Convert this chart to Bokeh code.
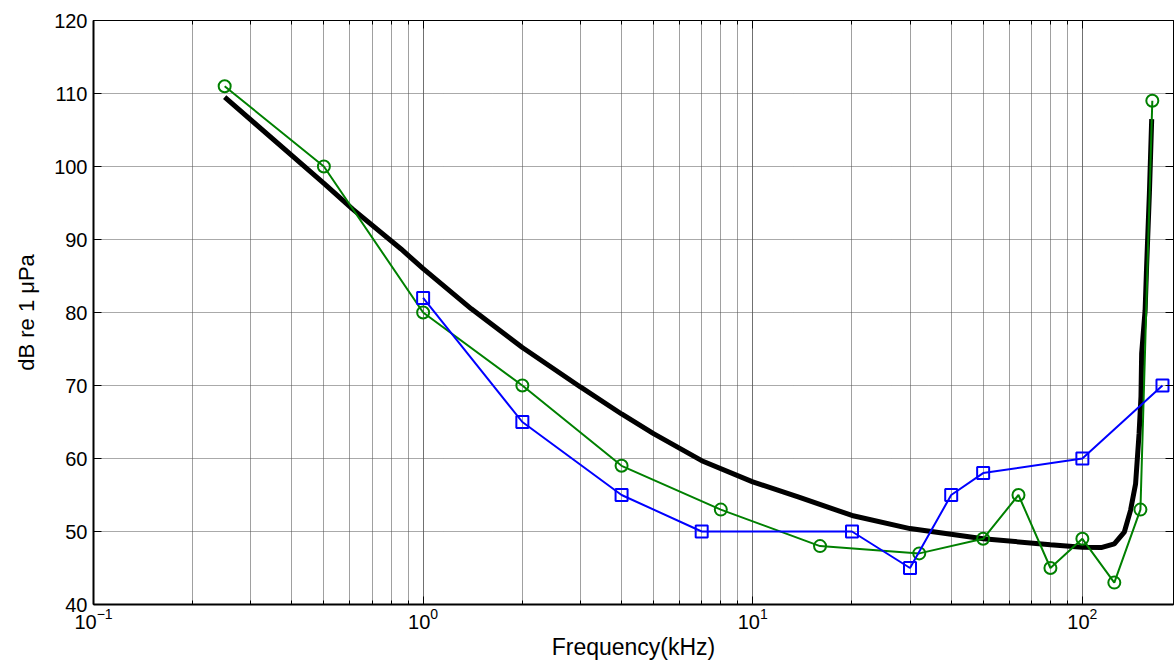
from bokeh.plotting import figure
from bokeh.models import (FixedTicker, LogAxis, LinearAxis, CustomJSTickFormatter, Range1d)
from bokeh.embed import file_html
from bokeh.resources import INLINE

# ---- data ----
thr_f = [0.25, 0.5, 0.61, 0.857, 1.0, 1.4, 2.0, 3.0, 4.0, 5.0, 7.0, 10.0, 13.8, 20.0, 30.0,
         50.0, 80.0, 100.0, 114.0, 125.0, 134.0, 140.0, 145.0, 148.6, 150.6, 151.3,
         155.0, 156.6, 159.7, 162.3]
thr_db = [109.5, 97.7, 94.2, 88.7, 86.0, 80.5, 75.2, 69.8, 66.1, 63.4, 59.7, 56.8, 54.7, 52.2,
          50.4, 49.0, 48.2, 47.85, 47.8, 48.3, 49.9, 52.9, 56.5, 63.4, 68.5, 74.4,
          80.3, 86.2, 96.3, 106.5]

green_f = [0.25, 0.5, 1, 2, 4, 8, 16, 32, 50, 64, 80, 100, 125, 150, 163]
green_db = [111, 100, 80, 70, 59, 53, 48, 47, 49, 55, 45, 49, 43, 53, 109]

blue_f = [1, 2, 4, 7, 20, 30, 40, 50, 100, 175]
blue_db = [82, 65, 55, 50, 50, 45, 55, 58, 60, 70]

x_major = [0.1, 1, 10, 100]
x_minor = [m * d for d in (0.1, 1, 10) for m in range(2, 10)]
y_ticks = [40, 50, 60, 70, 80, 90, 100, 110, 120]

FONT = "Liberation Sans"

p = figure(width=1174, height=662, x_axis_type="log",
           x_range=Range1d(0.1, 189), y_range=Range1d(40, 120),
           output_backend="svg", toolbar_location=None,
           min_border_left=93, min_border_right=1, min_border_top=20, min_border_bottom=58)
p.background_fill_color = "white"
p.border_fill_color = "white"
p.outline_line_color = "black"
p.outline_line_width = 1

xt = FixedTicker(ticks=x_major, minor_ticks=x_minor)
yt = FixedTicker(ticks=y_ticks)

p.xaxis.ticker = xt
p.yaxis.ticker = yt

for ax in (p.xaxis[0], p.yaxis[0]):
    ax.axis_line_color = "black"
    ax.axis_line_width = 2
    ax.major_tick_in = 8
    ax.major_tick_out = 0
    ax.minor_tick_in = 4
    ax.minor_tick_out = 0
    ax.major_tick_line_color = "black"
    ax.minor_tick_line_color = "black"
    ax.major_label_text_font = FONT
    ax.major_label_text_font_size = "20px"
    ax.major_label_text_color = "black"
    ax.axis_label_text_font = FONT
    ax.axis_label_text_font_style = "normal"
    ax.axis_label_text_color = "black"

p.xaxis.axis_label = "Frequency(kHz)"
p.yaxis.axis_label = "dB re 1 \u03bcPa"
p.xaxis.axis_label_text_font_size = "23px"
p.yaxis.axis_label_text_font_size = "22px"
p.xaxis.major_label_standoff = 3
p.xaxis.axis_label_standoff = 2
p.yaxis.major_label_standoff = 6
p.yaxis.axis_label_standoff = 12

# grids
p.xgrid.grid_line_color = "#707070"
p.xgrid.grid_line_width = 1
p.xgrid.minor_grid_line_color = "#a0a0a0"
p.xgrid.minor_grid_line_width = 1
p.ygrid.grid_line_color = "#555555"
p.ygrid.grid_line_dash = "1 1"
p.ygrid.grid_line_width = 1

blank = CustomJSTickFormatter(code="return ''")
top = LogAxis(ticker=xt, formatter=blank, major_tick_in=8, major_tick_out=0,
              minor_tick_in=4, minor_tick_out=0, major_label_standoff=0,
              major_label_text_font_size="1px", axis_line_color="black")
right = LinearAxis(ticker=yt, formatter=blank, major_tick_in=8, major_tick_out=0,
                   minor_tick_in=0, minor_tick_out=0, major_label_standoff=0,
                   major_label_text_font_size="1px", axis_line_color="black")
p.add_layout(top, "above")
p.add_layout(right, "right")

# black threshold curve
p.line(thr_f, thr_db, line_color="black", line_width=5)

# green series
p.line(green_f, green_db, line_color="#008000", line_width=2)
p.scatter(green_f, green_db, marker="circle", size=12, fill_color=None,
          line_color="#008000", line_width=2)

# blue series
p.line(blue_f, blue_db, line_color="#0000ff", line_width=2)
p.scatter(blue_f, blue_db, marker="square", size=12, fill_color=None,
          line_color="#0000ff", line_width=2)

open("out.html", "w").write(file_html(p, INLINE))
